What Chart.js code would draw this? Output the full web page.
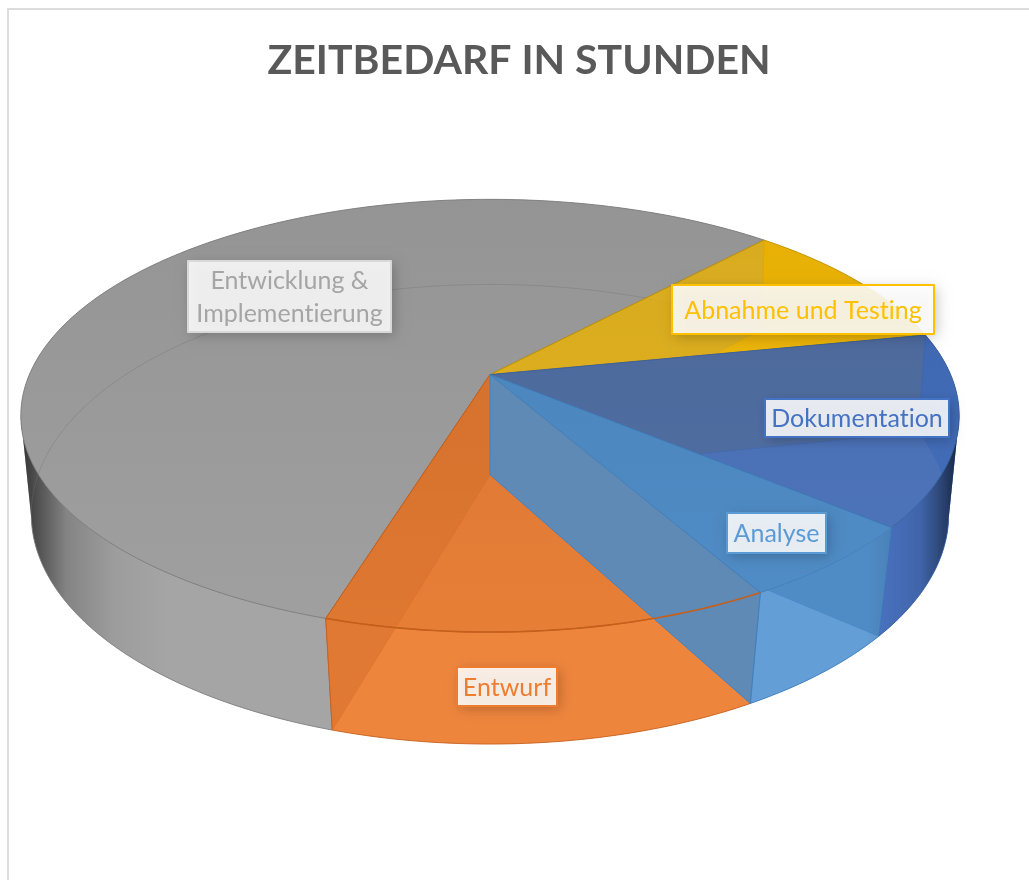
<!DOCTYPE html>
<html><head><meta charset="utf-8">
<style>
html,body{margin:0;padding:0;background:#fff;overflow:hidden}
#frame{position:absolute;left:7px;top:8px;width:1040px;height:900px;border:2px solid #dcdcdc;box-sizing:border-box}
#c{position:absolute;left:9px;top:9px}
</style>
<script src="https://cdn.jsdelivr.net/npm/chart.js@4"></script>
</head><body>
<div id="frame"></div>
<canvas id="c" width="1020" height="871"></canvas>
<script>
const titleText = 'ZEITBEDARF IN STUNDEN';
const categories = ['Analyse','Entwurf','Entwicklung & Implementierung','Abnahme und Testing','Dokumentation'];
const hours = [40,90,400,70,100];
const sliceColors = ['#5b9bd5','#ed7d31','#a5a5a5','#ffc000','#4472c4'];
const edgeColors = ['#3f7fbd','#c45f1c','#7c7c7c','#bf9000','#37609f'];
const topColors = ['#5291cd','#ed7d31','#a5a5a5','#ffc000','#4472c4'];
const topAlpha = [1,.8,.97,.8,.8];
const floorColors = ['#659fd6','#ed7d31','#a5a5a5','#ffc000','#7a96d6'];
const floorAlpha = [1,.8,1,.8,.8];
const frontAlpha = [.1,.68,.68,.68,.92];
const frontBacking = {0:'#4f8bc5'};
const backing = {4:'#967841'};
const radialStyle = {0:{color:'#5f8ab5',alpha:1,dark:0},1:{color:'#ed7d31',alpha:.85,dark:.13}};
const drawOrder = [2,3,4,1,0];
const labelBoxes = [
 {x:727,y:513,w:99,h:40},{x:457,y:667,w:100,h:39},{x:188,y:261,w:203,h:71},
 {x:672,y:285,w:262,h:49},{x:765,y:399,w:184,h:38}];
const labelBorders = ['#5b9bd5','#ed7d31','#d8d8d8','#ffc000','#4472c4'];
const FONT = 'Lato';
const shiftX = -29;
const TOP = {rx:1.6106, ry:0.7292, c:0.19, dy:0};
const BOT = {rx:1.58, ry:0.7798, c:0.172, dy:0.35};
const SILHOUETTE_DEG = 11; // angle at which the side wall turns edge-on to the viewer

function proj(el,P,a){
  const r=el.outerRadius,u=Math.cos(a),v=-Math.sin(a),d=1+P.c*v;
  return [el.x+shiftX+r*P.rx*u/d, el.y+r*P.dy-r*P.ry*v/d];
}
function arcPts(el,P,a0,a1){
  const n=Math.max(2,Math.ceil(Math.abs(a1-a0)/(Math.PI/180))),o=[];
  for(let i=0;i<=n;i++)o.push(proj(el,P,a0+(a1-a0)*i/n));
  return o;
}
function path(ctx,pts,open){ctx.beginPath();pts.forEach((p,i)=>i?ctx.lineTo(p[0],p[1]):ctx.moveTo(p[0],p[1]));if(!open)ctx.closePath();}
function line(ctx,pts,color,alpha,lw){
  path(ctx,pts,true);ctx.globalAlpha=alpha;ctx.strokeStyle=color;ctx.lineWidth=lw||1;ctx.stroke();ctx.globalAlpha=1;
}
function splitArc(a0,a1){
  const D=Math.PI/180,sil=SILHOUETTE_DEG*D,cuts=[];
  for(let k=-1;k<4;k++){[sil,Math.PI-sil].forEach(c=>{const x=c+k*2*Math.PI;if(x>a0+1e-6&&x<a1-1e-6)cuts.push(x);});}
  cuts.sort((p,q)=>p-q);
  const pts=[a0,...cuts,a1],parts=[];
  for(let i=0;i<pts.length-1;i++){parts.push({s:pts[i],e:pts[i+1],far:Math.sin((pts[i]+pts[i+1])/2)<Math.sin(sil)});}
  return parts;
}
function wallPath(el,s,e){return arcPts(el,TOP,s,e).concat(arcPts(el,BOT,e,s));}
function shade(ctx){
  const g=ctx.createLinearGradient(11,0,949,0);
  g.addColorStop(0,'rgba(0,0,0,.7)');g.addColorStop(.02,'rgba(0,0,0,.5)');g.addColorStop(.05,'rgba(0,0,0,.2)');
  g.addColorStop(.1,'rgba(0,0,0,.05)');g.addColorStop(.16,'rgba(0,0,0,0)');g.addColorStop(.9,'rgba(0,0,0,0)');
  g.addColorStop(.96,'rgba(0,0,0,.15)');g.addColorStop(.985,'rgba(0,0,0,.45)');g.addColorStop(1,'rgba(0,0,0,.65)');
  ctx.fillStyle=g;ctx.fill();
}
const pie3d={id:'pie3d',
 beforeDatasetsDraw(chart){
  const ctx=chart.ctx,els=chart.getDatasetMeta(0).data;
  ctx.save();ctx.lineJoin='round';
  drawOrder.forEach(i=>{
   const el=els[i],c=sliceColors[i],ed=edgeColors[i];
   let a0=el.startAngle,a1=el.endAngle;
   while(a0<0){a0+=2*Math.PI;a1+=2*Math.PI;}
   const at=proj(el,{rx:0,ry:0,c:0,dy:0},0),ab=proj(el,{rx:0,ry:0,c:0,dy:BOT.dy},0);
   const isGray=i===2;
   const tp=[at].concat(arcPts(el,TOP,a0,a1));
   const parts=splitArc(a0,a1);
   if(backing[i]){path(ctx,tp);ctx.fillStyle=backing[i];ctx.fill();}
   if(frontBacking[i]){parts.filter(p=>!p.far).forEach(p=>{path(ctx,wallPath(el,p.s,p.e));ctx.fillStyle=frontBacking[i];ctx.fill();});}
   // floor of the solid
   const bottomArc=arcPts(el,BOT,a0,a1);
   path(ctx,[ab].concat(bottomArc));ctx.globalAlpha=floorAlpha[i];ctx.fillStyle=floorColors[i];ctx.fill();ctx.globalAlpha=1;
   if(!isGray)line(ctx,[ab,bottomArc[0]],ed,.5);
   if(!isGray)line(ctx,[ab,bottomArc[bottomArc.length-1]],ed,.5);
   const corner=a=>line(ctx,[proj(el,TOP,a),proj(el,BOT,a)],ed,.7);
   parts.filter(p=>p.far).forEach(p=>{
     path(ctx,wallPath(el,p.s,p.e));ctx.globalAlpha=.9;ctx.fillStyle=c;ctx.fill();ctx.globalAlpha=1;
     if(!isGray){corner(a0);corner(p.s===a0?p.e===a1?a1:a0:a1);}
   });
   if(radialStyle[i]){
     const st=radialStyle[i],t=proj(el,TOP,a1),b=proj(el,BOT,a1);
     path(ctx,[at,t,b,ab]);ctx.globalAlpha=st.alpha;ctx.fillStyle=st.color;ctx.fill();
     if(st.dark){ctx.globalAlpha=st.dark;ctx.fillStyle='#000';ctx.fill();}
     ctx.globalAlpha=.7;ctx.strokeStyle=ed;ctx.lineWidth=1;ctx.stroke();ctx.globalAlpha=1;
   }
   parts.filter(p=>!p.far).forEach(p=>{
     const pts=wallPath(el,p.s,p.e);
     path(ctx,pts);ctx.globalAlpha=frontAlpha[i];ctx.fillStyle=c;ctx.fill();ctx.globalAlpha=1;shade(ctx);
     line(ctx,arcPts(el,BOT,p.s,p.e),ed,.85);
     if(p.s===a0)corner(a0);
     if(p.e===a1)corner(a1);
   });
   path(ctx,tp);ctx.globalAlpha=topAlpha[i];ctx.fillStyle=topColors[i];ctx.fill();
   const g=ctx.createLinearGradient(0,190,0,625);
   g.addColorStop(0,'rgba(0,0,0,.1)');g.addColorStop(1,'rgba(0,0,0,.03)');
   ctx.globalAlpha=1;ctx.fillStyle=g;ctx.fill();
   ctx.globalAlpha=.9;ctx.strokeStyle=ed;ctx.lineWidth=1;ctx.stroke();ctx.globalAlpha=1;
   if(isGray){
     const s=parts.find(p=>p.far);
     line(ctx,arcPts(el,BOT,s.s,s.e),'#6f6f6f',.35);
   }
  });
  // rim of the Entwurf slice stays visible through the neighbouring glass wall
  {const el=els[1];line(ctx,arcPts(el,TOP,el.startAngle,el.endAngle),edgeColors[1],1,1.6);}
  // labels
  const words={2:['Entwicklung &','Implementierung']};
  labelBoxes.forEach((b,i)=>{
   const x=b.x-9,y=b.y-9;
   ctx.save();
   ctx.shadowColor='rgba(0,0,0,.25)';ctx.shadowBlur=12;ctx.shadowOffsetX=3;ctx.shadowOffsetY=3;
   ctx.fillStyle='rgba(255,255,255,.87)';ctx.fillRect(x,y,b.w,b.h);
   ctx.restore();
   ctx.strokeStyle=labelBorders[i];ctx.lineWidth=2;ctx.strokeRect(x,y,b.w,b.h);
   ctx.fillStyle=sliceColors[i];ctx.font='25px '+FONT;ctx.textAlign='center';ctx.textBaseline='middle';
   ctx.letterSpacing='0.01px';
   const lines=words[i]||[chart.data.labels[i]];
   lines.forEach((t,k)=>ctx.fillText(t,x+b.w/2,y+b.h/2+1+(k-(lines.length-1)/2)*33));
  });
  ctx.restore();
  return false;
 }
};
new Chart(document.getElementById('c'),{
 type:'pie',
 data:{labels:categories,datasets:[{data:hours,backgroundColor:sliceColors,borderWidth:0}]},
 options:{
  responsive:false,animation:false,rotation:130.1,
  layout:{padding:{left:100,right:100,top:0,bottom:219.4}},
  plugins:{
   legend:{display:false},tooltip:{enabled:false},
   title:{display:true,text:titleText,color:'#595959',font:{family:FONT,size:41,weight:'bold',lineHeight:1.2},padding:{top:27,bottom:3.4}}
  }
 },
 plugins:[pie3d]
});
</script>
</body></html>
